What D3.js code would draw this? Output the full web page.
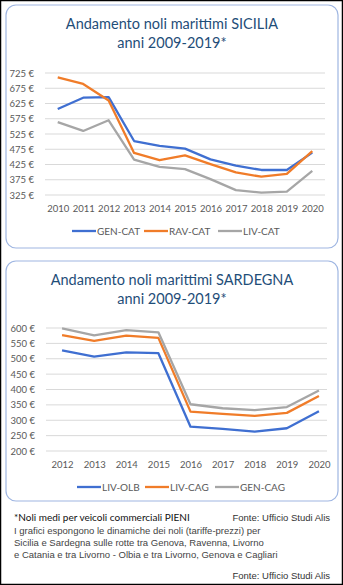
<!DOCTYPE html>
<html>
<head>
<meta charset="utf-8">
<script src="https://cdn.jsdelivr.net/npm/d3@7"></script>
<style>
  body { margin: 0; background: #fff; }
  svg { display: block; }
</style>
</head>
<body>
<div id="chart"></div>
<script>
// Sicilia data
var yearsSic = ["2010","2011","2012","2013","2014","2015","2016","2017","2018","2019","2020"];
var genCat = [607, 644, 646, 502, 486, 477, 442, 421, 407, 407, 464];
var ravCat = [711, 689, 635, 463, 439, 455, 426, 399, 385, 394, 469];
var livCat = [564, 535, 570, 441, 417, 410, 377, 341, 333, 336, 404];
var ticksSic = [325, 375, 425, 475, 525, 575, 625, 675, 725];

// Sardegna data
var yearsSar = ["2012","2013","2014","2015","2016","2017","2018","2019","2020"];
var livOlb = [527, 507, 521, 518, 279, 272, 263, 274, 329];
var livCag = [577, 558, 575, 568, 328, 321, 314, 324, 379];
var genCag = [599, 576, 593, 586, 352, 339, 333, 343, 397];
var ticksSar = [200, 250, 300, 350, 400, 450, 500, 550, 600];

var width = 343, height = 585;
var colors = ["#3f6fd1", "#f07c29", "#a6a6a6"];
var titleFont = "Lato, 'Open Sans', sans-serif";

var svg = d3.select("#chart")
    .append("svg")
    .attr("width", width)
    .attr("height", height);

svg.append("rect")
    .attr("x", 0.5).attr("y", 0.5)
    .attr("width", width - 1).attr("height", height - 1)
    .attr("fill", "#fff")
    .attr("stroke", "#000")
    .attr("stroke-width", 1.5);

function drawPanel(cfg) {
    var g = svg.append("g");

    g.append("rect")
        .attr("x", 6).attr("y", cfg.top)
        .attr("width", 332).attr("height", cfg.bottom - cfg.top)
        .attr("rx", 10)
        .attr("fill", "#fff")
        .attr("stroke", "#9fb6e2")
        .attr("stroke-width", 1.2);

    g.selectAll(".title")
        .data(cfg.title)
        .enter()
        .append("text")
        .attr("x", 172)
        .attr("y", (d, i) => cfg.top + 24 + i * 19)
        .attr("text-anchor", "middle")
        .style("font-family", titleFont)
        .style("font-size", "14.5px")
        .style("fill", "#1f4e79")
        .text(d => d);

    var x = d3.scalePoint()
        .domain(cfg.years)
        .range([cfg.x0, cfg.x1])
        .padding(0.5);

    var y = d3.scaleLinear()
        .domain([cfg.ticks[0], cfg.ticks[cfg.ticks.length - 1]])
        .range([cfg.yBottom, cfg.yTop]);

    // gridlines
    g.selectAll(".grid")
        .data(cfg.ticks)
        .enter()
        .append("line")
        .attr("x1", cfg.x0).attr("x2", cfg.gridEnd)
        .attr("y1", d => y(d)).attr("y2", d => y(d))
        .style("stroke", "#d9d9d9")
        .style("stroke-width", 1);

    // y axis labels
    var yAxis = g.append("g")
        .attr("transform", `translate(${cfg.x0 - 8},0)`)
        .call(d3.axisLeft(y).tickValues(cfg.ticks).tickSize(0).tickFormat(d => d + " €"));
    yAxis.select(".domain").remove();
    yAxis.selectAll("text")
        .style("font-family", titleFont)
        .style("font-size", "9.5px")
        .style("fill", "#595959");

    // x axis labels
    var xAxis = g.append("g")
        .attr("transform", `translate(0,${cfg.yBottom + 7})`)
        .call(d3.axisBottom(x).tickSize(0));
    xAxis.select(".domain").remove();
    xAxis.selectAll("text")
        .style("font-family", titleFont)
        .style("font-size", "9.5px")
        .style("fill", "#595959");

    var line = d3.line()
        .x((d, i) => x(cfg.years[i]))
        .y(d => y(d));

    g.selectAll(".series")
        .data(cfg.series)
        .enter()
        .append("path")
        .attr("d", d => line(d.values))
        .attr("fill", "none")
        .attr("stroke", (d, i) => colors[i])
        .attr("stroke-width", 2.3)
        .attr("stroke-linejoin", "round");

    // legend
    var leg = g.selectAll(".leg")
        .data(cfg.series)
        .enter()
        .append("g")
        .attr("transform", (d, i) => `translate(${cfg.legendX[i]},${cfg.legendY})`);
    leg.append("line")
        .attr("x1", 0).attr("x2", 24)
        .attr("stroke", (d, i) => colors[i])
        .attr("stroke-width", 2.3);
    leg.append("text")
        .attr("x", 25)
        .attr("dy", "0.35em")
        .style("font-family", titleFont)
        .style("font-size", "10px")
        .style("fill", "#595959")
        .text(d => d.name);
}

drawPanel({
    top: 5, bottom: 248,
    title: ["Andamento noli marittimi SICILIA", "anni 2009-2019*"],
    years: yearsSic, ticks: ticksSic,
    x0: 45, x1: 325, gridEnd: 325, yTop: 73, yBottom: 195,
    series: [
        { name: "GEN-CAT", values: genCat },
        { name: "RAV-CAT", values: ravCat },
        { name: "LIV-CAT", values: livCat }
    ],
    legendX: [72, 144, 218], legendY: 231
});

drawPanel({
    top: 261, bottom: 501,
    title: ["Andamento noli marittimi SARDEGNA", "anni 2009-2019*"],
    years: yearsSar, ticks: ticksSar,
    x0: 46, x1: 335, gridEnd: 327, yTop: 328, yBottom: 451,
    series: [
        { name: "LIV-OLB", values: livOlb },
        { name: "LIV-CAG", values: livCag },
        { name: "GEN-CAG", values: genCag }
    ],
    legendX: [77, 145, 215], legendY: 487
});

// footer notes
var noteFont = "'Liberation Sans', Arial, sans-serif";
svg.append("text")
    .attr("x", 14).attr("y", 521)
    .style("font-family", titleFont)
    .style("font-size", "10px")
    .style("fill", "#111")
    .text("*Noli medi per veicoli commerciali PIENI");

var fonte = ["Fonte: Ufficio Studi Alis"];
svg.selectAll(".fonte")
    .data([521, 579])
    .enter()
    .append("text")
    .attr("x", 330).attr("y", d => d)
    .attr("text-anchor", "end")
    .style("font-family", noteFont)
    .style("font-size", "9.5px")
    .style("fill", "#333")
    .text(fonte[0]);

var noteLines = [
    "I grafici espongono le dinamiche dei noli (tariffe-prezzi) per",
    "Sicilia e Sardegna sulle rotte tra Genova, Ravenna, Livorno",
    "e Catania e tra Livorno - Olbia e tra Livorno, Genova e Cagliari"
];
svg.selectAll(".note")
    .data(noteLines)
    .enter()
    .append("text")
    .attr("x", 14)
    .attr("y", (d, i) => 534 + i * 12)
    .style("font-family", noteFont)
    .style("font-size", "9.5px")
    .style("fill", "#444")
    .text(d => d);
</script>
</body>
</html>
